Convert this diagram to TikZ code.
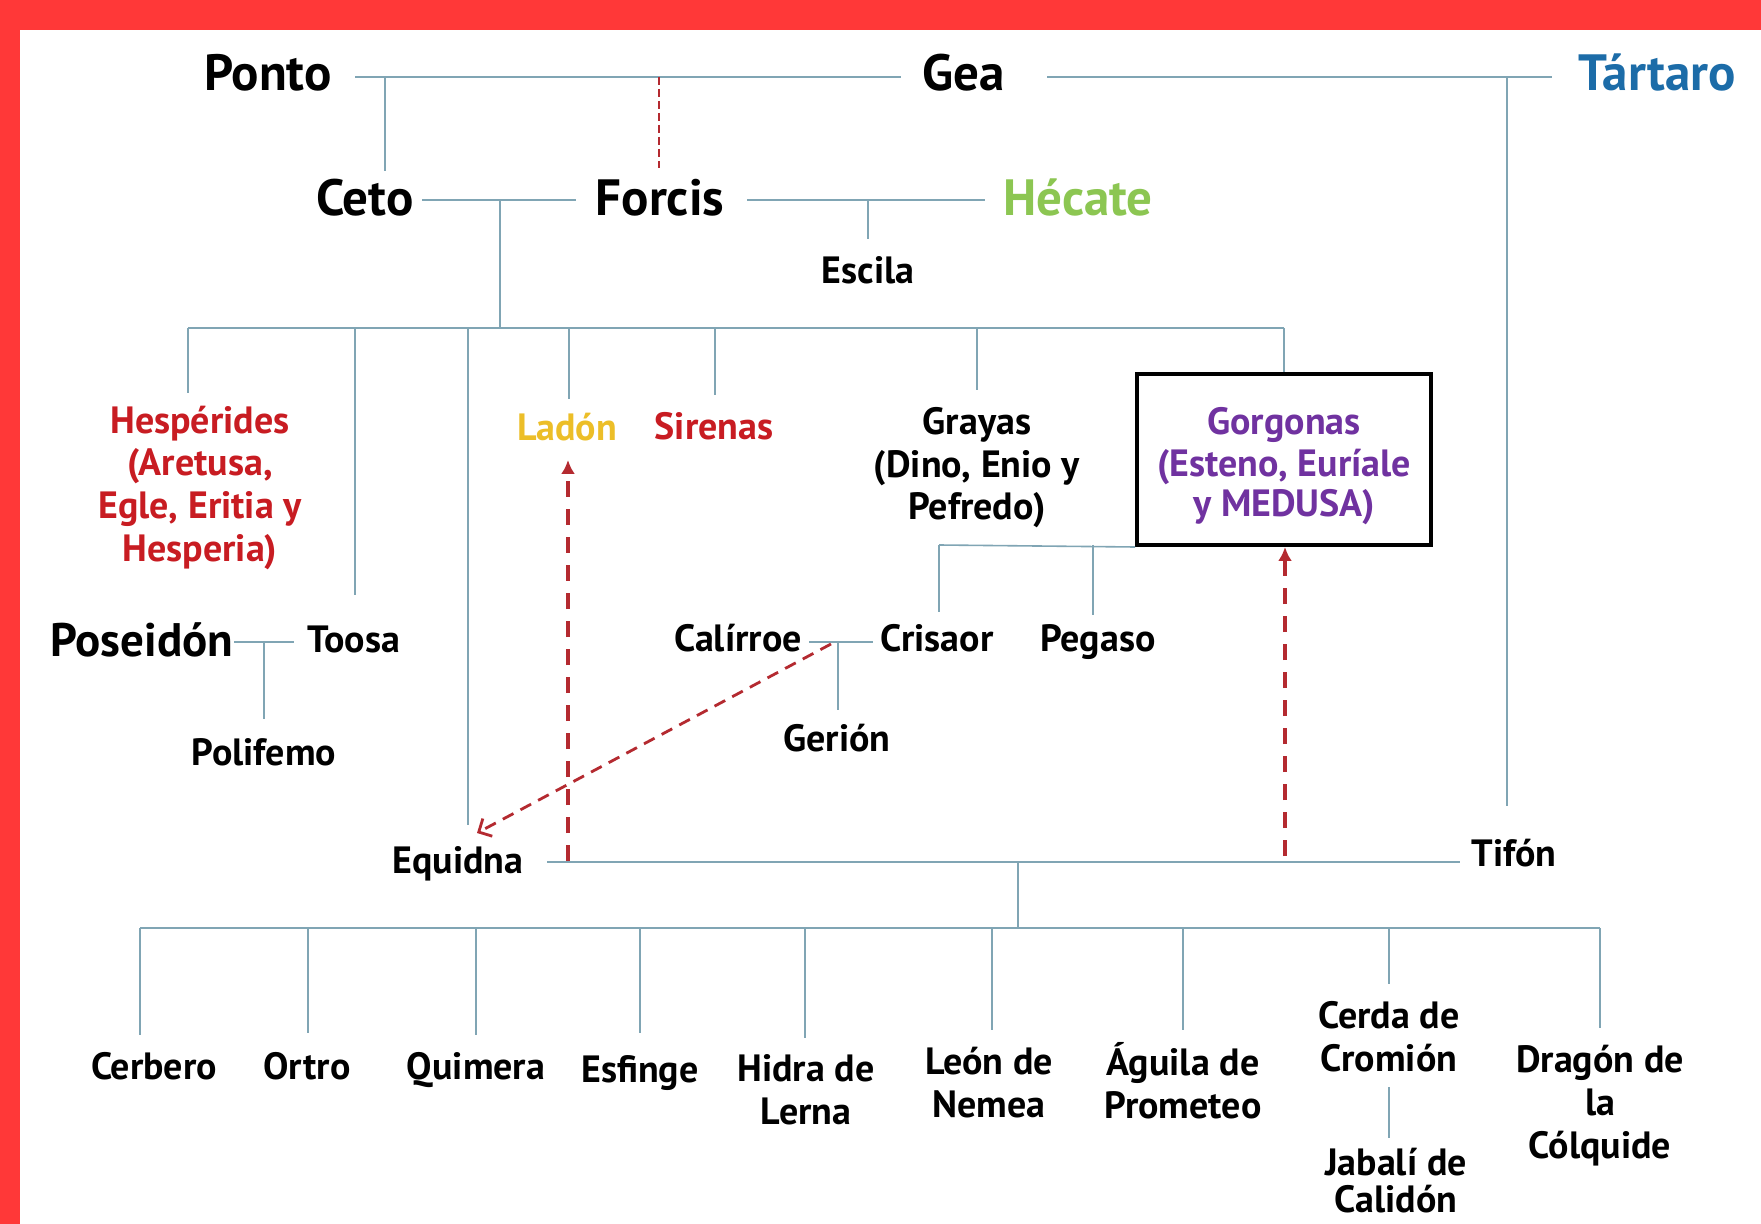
\documentclass[tikz,border=0pt]{standalone}
\usepackage{fontspec}
\setmainfont{PT Sans}
\usetikzlibrary{arrows.meta}
\definecolor{bgred}{RGB}{255,56,56}
\definecolor{linec}{RGB}{128,165,180}
\definecolor{dred}{RGB}{180,42,48}
\definecolor{hred}{RGB}{200,28,34}
\definecolor{ladonc}{RGB}{236,190,40}
\definecolor{hecg}{RGB}{140,198,82}
\definecolor{tblue}{RGB}{28,108,168}
\definecolor{gpurp}{RGB}{112,50,160}
\begin{document}
\begin{tikzpicture}[x=0.5pt,y=-0.5pt,
  big/.style={font=\fontsize{25.5}{30}\selectfont\bfseries, inner sep=0pt, anchor=base},
  lbl/.style={font=\fontsize{19}{21.3}\selectfont\bfseries, inner sep=0pt, align=center, anchor=base},
  conn/.style={draw=linec, line width=0.8pt},
  rdash/.style={draw=dred, line width=2pt, dash pattern=on 8pt off 6pt},
  thindash/.style={draw=dred, line width=0.7pt, dash pattern=on 4pt off 2pt},
]
% background
\fill[bgred] (0,0) rectangle (1761,1224);
\fill[white] (20,30) rectangle (1761,1224);
\useasboundingbox (0,0) rectangle (1761,1224);

% ---------- nodes (multi-line nodes are placed by the baseline of their last line) ----------
\node[big] (ponto) at (268,91) {Ponto};
\node[big] (gea) at (964,91) {Gea};
\node[big, text=tblue] (tartaro) at (1657,91) {Tártaro};

\node[big] (ceto) at (365,216) {Ceto};
\node[big] (forcis) at (660,216) {Forcis};
\node[big, text=hecg] (hecate) at (1078,216) {Hécate};
\node[lbl] (escila) at (868,284) {Escila};

\node[lbl, text=hred] (hesp) at (200,561) {Hespérides\\(Aretusa,\\Egle, Eritia y\\Hesperia)};
\node[lbl, text=ladonc] (ladon) at (567,441) {Ladón};
\node[lbl, text=hred] (sirenas) at (714,440) {Sirenas};
\node[lbl] (grayas) at (977,520) {Grayas\\(Dino, Enio y\\Pefredo)};
\node[draw=black, line width=2pt, minimum width=147pt, minimum height=85.5pt,
      inner sep=0pt] (gorg) at (1284,459.5) {};
\node[lbl, text=gpurp, font=\fontsize{19}{20.5}\selectfont\bfseries] (gorgtxt) at (1284,517)
      {Gorgonas\\(Esteno, Euríale\\y MEDUSA)};

\node[big, font=\fontsize{23.5}{28}\selectfont\bfseries] (poseidon) at (142,656) {Poseidón};
\node[lbl] (toosa) at (354,652) {Toosa};
\node[lbl] (polifemo) at (264,765) {Polifemo};
\node[lbl] (calirroe) at (738,651) {Calírroe};
\node[lbl] (crisaor) at (937,651) {Crisaor};
\node[lbl] (pegaso) at (1098,651) {Pegaso};
\node[lbl] (gerion) at (837,751) {Gerión};

\node[lbl] (equidna) at (458,873) {Equidna};
\node[lbl] (tifon) at (1514,866) {Tifón};

\node[lbl] (cerbero) at (154,1079) {Cerbero};
\node[lbl] (ortro) at (307,1079) {Ortro};
\node[lbl] (quimera) at (476,1079) {Quimera};
\node[lbl] (esfinge) at (640,1082) {Esfinge};
\node[lbl] (hidra) at (806,1124) {Hidra de\\Lerna};
\node[lbl] (leon) at (989,1117) {León de\\Nemea};
\node[lbl] (aguila) at (1183,1118) {Águila de\\Prometeo};
\node[lbl] (cerda) at (1389,1071) {Cerda de\\Cromión};
\node[lbl] (dragon) at (1600,1158) {Dragón de\\la\\Cólquide};
\node[lbl, font=\fontsize{19}{18.5}\selectfont\bfseries] (jabali) at (1396,1212) {Jabalí de\\Calidón};

% ---------- coordinates ----------
\coordinate (ponto-r) at (355,77);
\coordinate (gea-l) at (901,77);
\coordinate (gea-r) at (1047,77);
\coordinate (tart-l) at (1552,77);
\coordinate (j-ceto) at (385,77);
\coordinate (ceto-t) at (385,171);
\coordinate (j-forcis) at (659,77);
\coordinate (forcis-t) at (659,168);
\coordinate (j-tifon) at (1507,77);
\coordinate (tifon-t) at (1507,806);

\coordinate (ceto-r) at (422,200);
\coordinate (forcis-l) at (576,200);
\coordinate (j-cf) at (500,200);
\coordinate (forcis-r) at (747,200);
\coordinate (hecate-l) at (985,200);
\coordinate (j-fh) at (868,200);
\coordinate (escila-t) at (868,239);

\coordinate (bus3) at (0,328);
\coordinate (hesp-t) at (188,393);
\coordinate (toosa-t) at (355,595);
\coordinate (equidna-t) at (468,825);
\coordinate (ladon-t) at (569,399);
\coordinate (sirenas-t) at (715,395);
\coordinate (grayas-t) at (977,390);

\coordinate (gbus) at (939,545);
\coordinate (crisaor-t) at (939,612);
\coordinate (pegaso-t) at (1093,615);

\coordinate (calirroe-r) at (809,642);
\coordinate (crisaor-l) at (873,642);
\coordinate (j-cc) at (838,642);
\coordinate (gerion-t) at (838,710);

\coordinate (poseidon-r) at (234,642);
\coordinate (toosa-l) at (294,642);
\coordinate (j-pt) at (264,642);
\coordinate (polifemo-t) at (264,719);

\coordinate (equidna-r) at (547,862);
\coordinate (tifon-l) at (1460,862);
\coordinate (j-et) at (1018,862);
\coordinate (bus6) at (0,928);

\coordinate (cerbero-t) at (140,1035);
\coordinate (ortro-t) at (308,1033);
\coordinate (quimera-t) at (476,1035);
\coordinate (esfinge-t) at (640,1033);
\coordinate (hidra-t) at (805,1038);
\coordinate (leon-t) at (992,1030);
\coordinate (aguila-t) at (1183,1030);
\coordinate (cerda-t) at (1389,984);
\coordinate (dragon-t) at (1600,1028);
\coordinate (cerda-b) at (1389,1087);
\coordinate (jabali-t) at (1389,1138);

\coordinate (arr-s) at (831,644);
\coordinate (arr-e) at (477,833);
\coordinate (ladon-a) at (568,460);
\coordinate (ladon-s) at (568,861);
\coordinate (gorg-s) at (1285,856);

% ---------- connectors ----------
\draw[conn] (ponto-r) -- (gea-l);
\draw[conn] (gea-r) -- (tart-l);
\draw[conn] (j-ceto) -- (ceto-t);
\draw[thindash] (j-forcis) -- (forcis-t);
\draw[conn] (j-tifon) -- (tifon-t);

\draw[conn] (ceto-r) -- (forcis-l);
\draw[conn] (j-cf) -- (j-cf |- bus3);
\draw[conn] (forcis-r) -- (hecate-l);
\draw[conn] (j-fh) -- (escila-t);

\draw[conn] (hesp-t |- bus3) -- (gorg.north |- bus3);
\draw[conn] (hesp-t |- bus3) -- (hesp-t);
\draw[conn] (toosa-t |- bus3) -- (toosa-t);
\draw[conn] (equidna-t |- bus3) -- (equidna-t);
\draw[conn] (ladon-t |- bus3) -- (ladon-t);
\draw[conn] (sirenas-t |- bus3) -- (sirenas-t);
\draw[conn] (grayas-t |- bus3) -- (grayas-t);
\draw[conn] (gorg.north |- bus3) -- (gorg.north);

\draw[conn] (gbus) -- (gorg.south west);
\draw[conn] (gbus) -- (crisaor-t);
\draw[conn] (pegaso-t |- gbus) -- (pegaso-t);

\draw[conn] (calirroe-r) -- (crisaor-l);
\draw[conn] (j-cc) -- (gerion-t);
\draw[conn] (poseidon-r) -- (toosa-l);
\draw[conn] (j-pt) -- (polifemo-t);

\draw[conn] (equidna-r) -- (tifon-l);
\draw[conn] (j-et) -- (j-et |- bus6);
\draw[conn] (cerbero-t |- bus6) -- (dragon-t |- bus6);
\foreach \c in {cerbero,ortro,quimera,esfinge,hidra,leon,aguila,cerda,dragon}
  \draw[conn] (\c-t |- bus6) -- (\c-t);
\draw[conn] (cerda-b) -- (jabali-t);

% red dashed arrows
\draw[rdash, -{Latex[length=7pt,width=7pt]}] (ladon-s) -- (ladon-a);
\draw[rdash, -{Latex[length=7pt,width=7pt]}] (gorg-s) -- (gorg.south -| gorg-s);
\draw[draw=dred, line width=1.4pt, dash pattern=on 6pt off 4pt,
      -{Straight Barb[length=5pt,width=10pt]}] (arr-s) -- (arr-e);
\end{tikzpicture}
\end{document}
